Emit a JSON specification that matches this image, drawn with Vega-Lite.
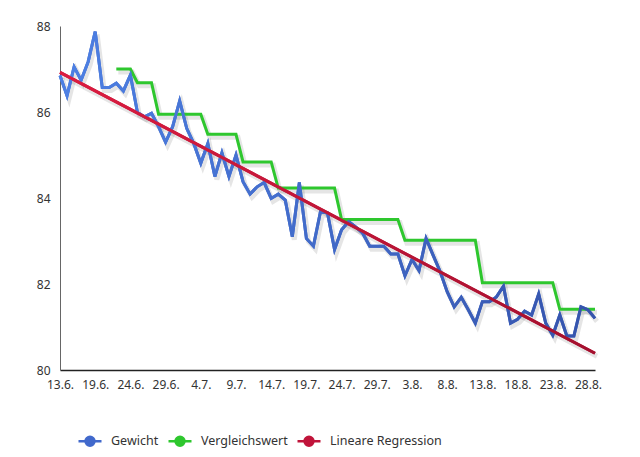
{
  "$schema": "https://vega.github.io/schema/vega-lite/v6.json",
  "width": 535,
  "height": 344,
  "autosize": {"type": "none"},
  "padding": {"left": 60, "top": 26, "right": 45, "bottom": 87},
  "background": "white",
  "config": {"view": {"stroke": null}, "font": "Noto Sans"},
  "data": {"values": [
    {"d": "13.6.", "Gewicht": 86.85, "Lineare Regression": 86.92},
    {"d": "15.6.", "Gewicht": 86.38},
    {"d": "16.6.", "Gewicht": 87.05},
    {"d": "17.6.", "Gewicht": 86.74},
    {"d": "18.6.", "Gewicht": 87.17},
    {"d": "19.6.", "Gewicht": 87.87},
    {"d": "20.6.", "Gewicht": 86.57},
    {"d": "21.6.", "Gewicht": 86.57},
    {"d": "22.6.", "Gewicht": 86.67, "Vergleichswert": 87.0},
    {"d": "23.6.", "Gewicht": 86.49, "Vergleichswert": 87.0},
    {"d": "24.6.", "Gewicht": 86.86, "Vergleichswert": 87.0},
    {"d": "25.6.", "Gewicht": 85.99, "Vergleichswert": 86.68},
    {"d": "26.6.", "Gewicht": 85.89, "Vergleichswert": 86.68},
    {"d": "27.6.", "Gewicht": 85.97, "Vergleichswert": 86.68},
    {"d": "28.6.", "Gewicht": 85.66, "Vergleichswert": 85.95},
    {"d": "29.6.", "Gewicht": 85.30, "Vergleichswert": 85.95},
    {"d": "30.6.", "Gewicht": 85.66, "Vergleichswert": 85.95},
    {"d": "1.7.", "Gewicht": 86.26, "Vergleichswert": 85.95},
    {"d": "2.7.", "Gewicht": 85.62, "Vergleichswert": 85.95},
    {"d": "3.7.", "Gewicht": 85.27, "Vergleichswert": 85.95},
    {"d": "4.7.", "Gewicht": 84.81, "Vergleichswert": 85.95},
    {"d": "5.7.", "Gewicht": 85.27, "Vergleichswert": 85.48},
    {"d": "6.7.", "Gewicht": 84.50, "Vergleichswert": 85.48},
    {"d": "7.7.", "Gewicht": 85.05, "Vergleichswert": 85.48},
    {"d": "8.7.", "Gewicht": 84.50, "Vergleichswert": 85.48},
    {"d": "9.7.", "Gewicht": 85.00, "Vergleichswert": 85.48},
    {"d": "10.7.", "Gewicht": 84.38, "Vergleichswert": 84.84},
    {"d": "11.7.", "Gewicht": 84.09, "Vergleichswert": 84.84},
    {"d": "12.7.", "Gewicht": 84.26, "Vergleichswert": 84.84},
    {"d": "13.7.", "Gewicht": 84.36, "Vergleichswert": 84.84},
    {"d": "14.7.", "Gewicht": 83.99, "Vergleichswert": 84.84},
    {"d": "15.7.", "Gewicht": 84.09, "Vergleichswert": 84.23},
    {"d": "16.7.", "Gewicht": 83.95, "Vergleichswert": 84.23},
    {"d": "17.7.", "Gewicht": 83.10, "Vergleichswert": 84.23},
    {"d": "18.7.", "Gewicht": 84.36, "Vergleichswert": 84.23},
    {"d": "19.7.", "Gewicht": 83.06, "Vergleichswert": 84.23},
    {"d": "20.7.", "Gewicht": 82.88, "Vergleichswert": 84.23},
    {"d": "21.7.", "Gewicht": 83.68, "Vergleichswert": 84.23},
    {"d": "22.7.", "Gewicht": 83.65, "Vergleichswert": 84.23},
    {"d": "23.7.", "Gewicht": 82.80, "Vergleichswert": 84.23},
    {"d": "24.7.", "Gewicht": 83.26, "Vergleichswert": 83.5},
    {"d": "25.7.", "Gewicht": 83.45, "Vergleichswert": 83.5},
    {"d": "26.7.", "Gewicht": 83.33, "Vergleichswert": 83.5},
    {"d": "27.7.", "Gewicht": 83.18, "Vergleichswert": 83.5},
    {"d": "28.7.", "Gewicht": 82.88, "Vergleichswert": 83.5},
    {"d": "29.7.", "Gewicht": 82.88, "Vergleichswert": 83.5},
    {"d": "30.7.", "Gewicht": 82.88, "Vergleichswert": 83.5},
    {"d": "31.7.", "Gewicht": 82.70, "Vergleichswert": 83.5},
    {"d": "1.8.", "Gewicht": 82.70, "Vergleichswert": 83.5},
    {"d": "2.8.", "Gewicht": 82.19, "Vergleichswert": 83.02},
    {"d": "3.8.", "Gewicht": 82.57, "Vergleichswert": 83.02},
    {"d": "4.8.", "Gewicht": 82.31, "Vergleichswert": 83.02},
    {"d": "5.8.", "Gewicht": 83.06, "Vergleichswert": 83.02},
    {"d": "6.8.", "Gewicht": 82.67, "Vergleichswert": 83.02},
    {"d": "7.8.", "Gewicht": 82.29, "Vergleichswert": 83.02},
    {"d": "8.8.", "Gewicht": 81.82, "Vergleichswert": 83.02},
    {"d": "9.8.", "Gewicht": 81.47, "Vergleichswert": 83.02},
    {"d": "10.8.", "Gewicht": 81.69, "Vergleichswert": 83.02},
    {"d": "11.8.", "Gewicht": 81.40, "Vergleichswert": 83.02},
    {"d": "12.8.", "Gewicht": 81.09, "Vergleichswert": 83.02},
    {"d": "13.8.", "Gewicht": 81.59, "Vergleichswert": 82.03},
    {"d": "14.8.", "Gewicht": 81.59, "Vergleichswert": 82.03},
    {"d": "15.8.", "Gewicht": 81.70, "Vergleichswert": 82.03},
    {"d": "16.8.", "Gewicht": 81.95, "Vergleichswert": 82.03},
    {"d": "17.8.", "Gewicht": 81.09, "Vergleichswert": 82.03},
    {"d": "18.8.", "Gewicht": 81.18, "Vergleichswert": 82.03},
    {"d": "19.8.", "Gewicht": 81.37, "Vergleichswert": 82.03},
    {"d": "20.8.", "Gewicht": 81.28, "Vergleichswert": 82.03},
    {"d": "21.8.", "Gewicht": 81.77, "Vergleichswert": 82.03},
    {"d": "22.8.", "Gewicht": 81.09, "Vergleichswert": 82.03},
    {"d": "23.8.", "Gewicht": 80.81, "Vergleichswert": 82.03},
    {"d": "24.8.", "Gewicht": 81.28, "Vergleichswert": 81.41},
    {"d": "25.8.", "Gewicht": 80.79, "Vergleichswert": 81.41},
    {"d": "26.8.", "Gewicht": 80.79, "Vergleichswert": 81.41},
    {"d": "27.8.", "Gewicht": 81.47, "Vergleichswert": 81.41},
    {"d": "28.8.", "Gewicht": 81.40, "Vergleichswert": 81.41},
    {"d": "29.8.", "Gewicht": 81.20, "Vergleichswert": 81.41, "Lineare Regression": 80.39}
  ]},
  "transform": [
    {"fold": ["Gewicht", "Vergleichswert", "Lineare Regression"], "as": ["key", "value"]},
    {"filter": {"field": "value", "valid": true}}
  ],
  "encoding": {
    "x": {
      "field": "d",
      "type": "ordinal",
      "sort": null,
      "scale": {"type": "point", "padding": 0},
      "axis": {
        "title": null,
        "values": ["13.6.", "19.6.", "24.6.", "29.6.", "4.7.", "9.7.", "14.7.", "19.7.", "24.7.", "29.7.", "3.8.", "8.8.", "13.8.", "18.8.", "23.8.", "28.8."],
        "labelAngle": 0,
        "ticks": false,
        "grid": false,
        "domainColor": "#222222",
        "domainWidth": 1.5,
        "labelFontSize": 12,
        "labelColor": "#333333",
        "labelPadding": 9
      }
    },
    "y": {
      "field": "value",
      "type": "quantitative",
      "scale": {"domain": [80, 88], "nice": false, "zero": false},
      "axis": {
        "title": null,
        "values": [80, 82, 84, 86, 88],
        "grid": false,
        "ticks": false,
        "domainColor": "#666666",
        "domainWidth": 1,
        "labelFontSize": 12,
        "labelColor": "#333333",
        "labelPadding": 10
      }
    }
  },
  "layer": [
    {
      "mark": {"type": "line", "stroke": "#000000", "strokeOpacity": 0.1, "strokeWidth": 5, "xOffset": 2, "yOffset": 3},
      "encoding": {"detail": {"field": "key", "type": "nominal"}}
    },
    {
      "mark": {"type": "line", "strokeWidth": 3},
      "encoding": {
        "color": {
          "field": "key",
          "type": "nominal",
          "scale": {"domain": ["Gewicht", "Vergleichswert", "Lineare Regression"], "range": ["#4169cc", "#2ec72e", "#c0143a"]},
          "legend": {
            "orient": "none",
            "legendX": 17,
            "legendY": 402,
            "direction": "horizontal",
            "title": null,
            "symbolType": "M-1,0H1M0.39,0A0.39,0.39,0,1,1,-0.39,0A0.39,0.39,0,1,1,0.39,0Z",
            "symbolSize": 529,
            "symbolStrokeWidth": 2.5,
            "labelFontSize": 12.5,
            "labelColor": "#333333",
            "labelOffset": 8,
            "columnPadding": 4,
            "padding": 0,
            "encode": {"symbols": {"update": {"fill": {"scale": "color", "field": "value"}, "fillOpacity": {"value": 1}}}}
          }
        }
      }
    },
    {
      "transform": [{"filter": {"field": "key", "equal": "Gewicht"}}],
      "mark": {"type": "line", "strokeWidth": 3, "stroke": {"gradient": "linear", "x1": 0, "y1": 0, "x2": 1, "y2": 0, "stops": [{"offset": 0, "color": "#4d80e4"}, {"offset": 1, "color": "#3553ab"}]}}
    },
    {
      "transform": [{"filter": {"field": "key", "equal": "Lineare Regression"}}],
      "mark": {"type": "line", "strokeWidth": 3, "stroke": {"gradient": "linear", "x1": 0, "y1": 0, "x2": 1, "y2": 0, "stops": [{"offset": 0, "color": "#dc1c40"}, {"offset": 1, "color": "#a3102e"}]}}
    }
  ]
}
